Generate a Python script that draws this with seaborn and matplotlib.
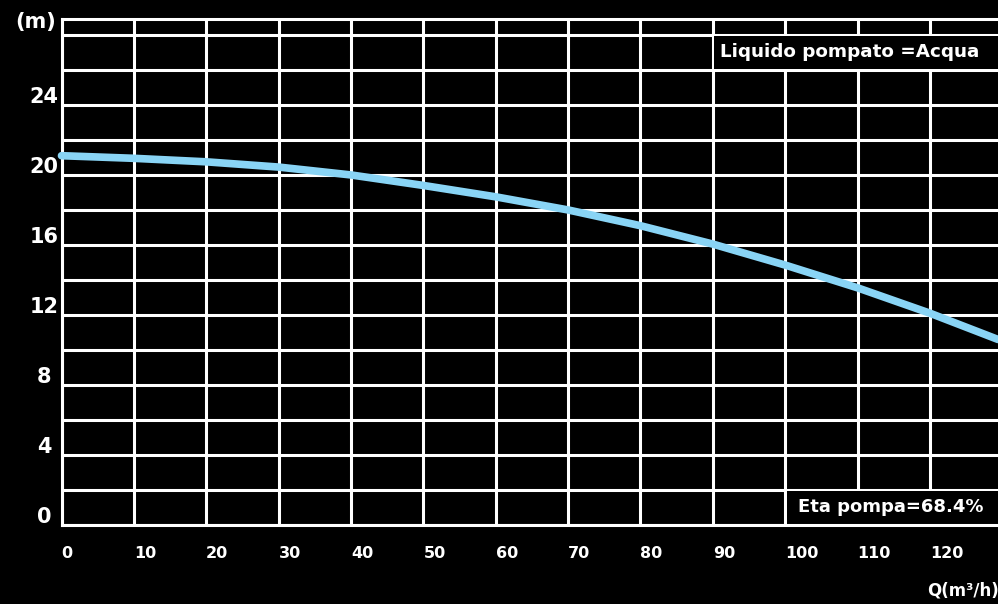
import matplotlib
matplotlib.use('Agg')
import matplotlib.pyplot as plt
import matplotlib.transforms as mtransforms
from matplotlib.patches import Rectangle
import seaborn as sns

# Curva della pompa
portata = [0, 10, 20, 30, 40, 50, 60, 70, 80, 90, 100, 110, 120, 129.4]
prevalenza = [21.1, 20.95, 20.75, 20.45, 20.0, 19.4, 18.75, 18.0, 17.1, 16.05, 14.85, 13.55, 12.1, 10.6]

x_ticks = [0, 10, 20, 30, 40, 50, 60, 70, 80, 90, 100, 110, 120]
y_ticks = [0, 4, 8, 12, 16, 20, 24]
y_minor = [2, 6, 10, 14, 18, 22, 26, 28]

testo_liquido = 'Liquido pompato =Acqua'
testo_eta = 'Eta pompa=68.4%'

sns.set_style('dark')
plt.rcParams['font.family'] = ['DejaVu Sans']

fig = plt.figure(figsize=(9.98, 6.04), dpi=100, facecolor='black')
ax = fig.add_axes([61.5 / 998, 79 / 604, 1 - 61.5 / 998, 506 / 604])
ax.set_facecolor('black')

sns.lineplot(x=portata, y=prevalenza, ax=ax, color='#89d4f5', lw=5.5,
             zorder=3, clip_on=False, solid_joinstyle='round')

ax.set_xlim(0, 129.4)
ax.set_ylim(0, 28.91)

ax.set_xticks(x_ticks)
ax.set_xticklabels([str(v) for v in x_ticks])
ax.set_yticks(y_ticks)
ax.set_yticklabels([str(v) for v in y_ticks])
ax.set_yticks(y_minor, minor=True)

ax.grid(True, which='both', color='white', lw=2.2)
ax.set_axisbelow(True)
ax.tick_params(axis='both', which='both', length=0)
ax.tick_params(axis='y', pad=12.6, labelsize=15, labelcolor='white')
ax.tick_params(axis='x', pad=15, labelsize=11.5, labelcolor='white')

off_y = mtransforms.ScaledTranslation(0, 0.10, fig.dpi_scale_trans)
for lab in ax.get_yticklabels():
    lab.set_ha('center')
    lab.set_fontweight('bold')
    lab.set_transform(lab.get_transform() + off_y)
for lab in ax.get_xticklabels():
    lab.set_ha('left')
    lab.set_fontweight('bold')

for side in ['left', 'bottom', 'top']:
    ax.spines[side].set_color('white')
    ax.spines[side].set_linewidth(2.2)
ax.spines['right'].set_visible(False)

# riquadri neri per le scritte
ax.add_patch(Rectangle((90.2, 26.065), 40, 1.87, facecolor='black',
                       edgecolor='none', zorder=1))
ax.add_patch(Rectangle((100.2, 0.065), 40, 1.87, facecolor='black',
                       edgecolor='none', zorder=1))

ax.text(91.0, 27.0, testo_liquido, color='white', fontsize=13.2,
        fontweight='bold', va='center', ha='left', zorder=4)
ax.text(101.7, 1.05, testo_eta, color='white', fontsize=13,
        fontweight='bold', va='center', ha='left', zorder=4)

fig.text(35.5 / 998, 1 - 22 / 604, '(m)', color='white', fontsize=15,
         fontweight='bold', ha='center', va='center')
fig.text(927 / 998, 1 - 591 / 604, 'Q(m³/h)', color='white', fontsize=12,
         fontweight='bold', ha='left', va='center')

fig.savefig('out.png', dpi=100, facecolor='black')
